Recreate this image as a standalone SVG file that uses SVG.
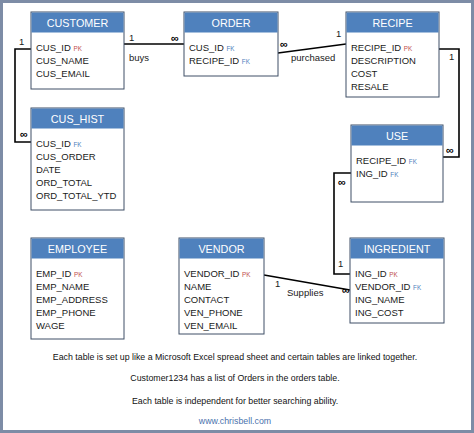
<svg xmlns="http://www.w3.org/2000/svg" width="474" height="433" viewBox="0 0 474 433">
<style>
.frame{fill:#ffffff;stroke:#7d8ca6;stroke-width:3}
.box{fill:#ffffff;stroke:#3f4f66;stroke-width:1}
.hdr{fill:#4f81bd}
.ttl{font-family:"Liberation Sans",Arial,sans-serif;font-size:10.8px;fill:#ffffff;text-anchor:middle}
.row{font-family:"Liberation Sans",Arial,sans-serif;font-size:9.5px;fill:#1a1a1a}
.pk{font-size:6.3px;fill:#c0504d}
.fk{font-size:6.3px;fill:#4f81bd}
.ln{fill:none;stroke:#000000;stroke-width:1.6}
.lbl{font-family:"Liberation Sans",Arial,sans-serif;font-size:9.5px;fill:#1a1a1a}
.inf{font-family:"Liberation Sans",Arial,sans-serif;font-size:11px;font-weight:bold;fill:#000000;text-anchor:middle}
.note{font-family:"Liberation Sans",Arial,sans-serif;font-size:8.8px;fill:#111111;text-anchor:middle}
.url{font-family:"Liberation Sans",Arial,sans-serif;font-size:8.8px;fill:#4a72ad;text-anchor:middle}
</style>
<rect class="frame" x="1.5" y="1.5" width="471" height="430"/>

<g id="connectors">
<polyline class="ln" points="124,44 184,44"/>
<polyline class="ln" points="278,53 346,44"/>
<polyline class="ln" points="31,49 15,49 15,142 31,142"/>
<polyline class="ln" points="439,49 459,49 459,157 443,157"/>
<polyline class="ln" points="351,173 334,173 334,274 350,274"/>
<polyline class="ln" points="264,275 350,290"/>
<text class="lbl" x="129" y="41">1</text>
<text class="inf" x="175" y="42">∞</text>
<text class="lbl" x="129" y="61">buys</text>
<text class="inf" x="284" y="48">∞</text>
<text class="lbl" x="336" y="37">1</text>
<text class="lbl" x="291" y="61">purchased</text>
<text class="lbl" x="19" y="45">1</text>
<text class="inf" x="24" y="138">∞</text>
<text class="lbl" x="449" y="60">1</text>
<text class="inf" x="450" y="154">∞</text>
<text class="inf" x="342" y="186">∞</text>
<text class="lbl" x="338" y="267">1</text>
<text class="lbl" x="275" y="287">1</text>
<text class="lbl" x="287" y="296">Supplies</text>
<text class="inf" x="346" y="294">∞</text>
</g>

<g id="customer">
<rect class="box" x="31" y="12" width="93" height="77"/>
<rect class="hdr" x="31.5" y="12.5" width="92" height="20"/>
<text class="ttl" x="77.5" y="26.5">CUSTOMER</text>
<text class="row" x="36" y="51">CUS_ID <tspan class="pk">PK</tspan></text>
<text class="row" x="36" y="64">CUS_NAME</text>
<text class="row" x="36" y="77">CUS_EMAIL</text>
</g>

<g id="order">
<rect class="box" x="184" y="12" width="94" height="64"/>
<rect class="hdr" x="184.5" y="12.5" width="93" height="20"/>
<text class="ttl" x="231" y="26.5">ORDER</text>
<text class="row" x="189" y="51">CUS_ID <tspan class="fk">FK</tspan></text>
<text class="row" x="189" y="64">RECIPE_ID <tspan class="fk">FK</tspan></text>
</g>

<g id="recipe">
<rect class="box" x="346" y="12" width="93" height="85"/>
<rect class="hdr" x="346.5" y="12.5" width="92" height="20"/>
<text class="ttl" x="392.5" y="26.5">RECIPE</text>
<text class="row" x="351" y="51">RECIPE_ID <tspan class="pk">PK</tspan></text>
<text class="row" x="351" y="64">DESCRIPTION</text>
<text class="row" x="351" y="77">COST</text>
<text class="row" x="351" y="90">RESALE</text>
</g>

<g id="cus_hist">
<rect class="box" x="31" y="108" width="93" height="102"/>
<rect class="hdr" x="31.5" y="108.5" width="92" height="20"/>
<text class="ttl" x="77.5" y="122.5">CUS_HIST</text>
<text class="row" x="36" y="147">CUS_ID <tspan class="fk">FK</tspan></text>
<text class="row" x="36" y="160">CUS_ORDER</text>
<text class="row" x="36" y="173">DATE</text>
<text class="row" x="36" y="186">ORD_TOTAL</text>
<text class="row" x="36" y="199">ORD_TOTAL_YTD</text>
</g>

<g id="use">
<rect class="box" x="351" y="125" width="92" height="77"/>
<rect class="hdr" x="351.5" y="125.5" width="91" height="20"/>
<text class="ttl" x="397" y="139.5">USE</text>
<text class="row" x="356" y="164">RECIPE_ID <tspan class="fk">FK</tspan></text>
<text class="row" x="356" y="177">ING_ID <tspan class="fk">FK</tspan></text>
</g>

<g id="employee">
<rect class="box" x="31" y="238" width="93" height="101"/>
<rect class="hdr" x="31.5" y="238.5" width="92" height="20"/>
<text class="ttl" x="77.5" y="252.5">EMPLOYEE</text>
<text class="row" x="36" y="277">EMP_ID <tspan class="pk">PK</tspan></text>
<text class="row" x="36" y="290">EMP_NAME</text>
<text class="row" x="36" y="303">EMP_ADDRESS</text>
<text class="row" x="36" y="316">EMP_PHONE</text>
<text class="row" x="36" y="329">WAGE</text>
</g>

<g id="vendor">
<rect class="box" x="179" y="238" width="85" height="96"/>
<rect class="hdr" x="179.5" y="238.5" width="84" height="20"/>
<text class="ttl" x="221.5" y="252.5">VENDOR</text>
<text class="row" x="184" y="277">VENDOR_ID <tspan class="pk">PK</tspan></text>
<text class="row" x="184" y="290">NAME</text>
<text class="row" x="184" y="303">CONTACT</text>
<text class="row" x="184" y="316">VEN_PHONE</text>
<text class="row" x="184" y="329">VEN_EMAIL</text>
</g>

<g id="ingredient">
<rect class="box" x="350" y="238" width="94" height="85"/>
<rect class="hdr" x="350.5" y="238.5" width="93" height="20"/>
<text class="ttl" x="397" y="252.5">INGREDIENT</text>
<text class="row" x="355" y="277">ING_ID <tspan class="pk">PK</tspan></text>
<text class="row" x="355" y="290">VENDOR_ID <tspan class="fk">FK</tspan></text>
<text class="row" x="355" y="303">ING_NAME</text>
<text class="row" x="355" y="316">ING_COST</text>
</g>

<g id="notes">
<text class="note" x="235" y="360">Each table is set up like a Microsoft Excel spread sheet and certain tables are linked together.</text>
<text class="note" x="235" y="381">Customer1234 has a list of Orders in the orders table.</text>
<text class="note" x="235" y="404">Each table is independent for better searching ability.</text>
<text class="url" x="235" y="424">www.chrisbell.com</text>
</g>
</svg>
